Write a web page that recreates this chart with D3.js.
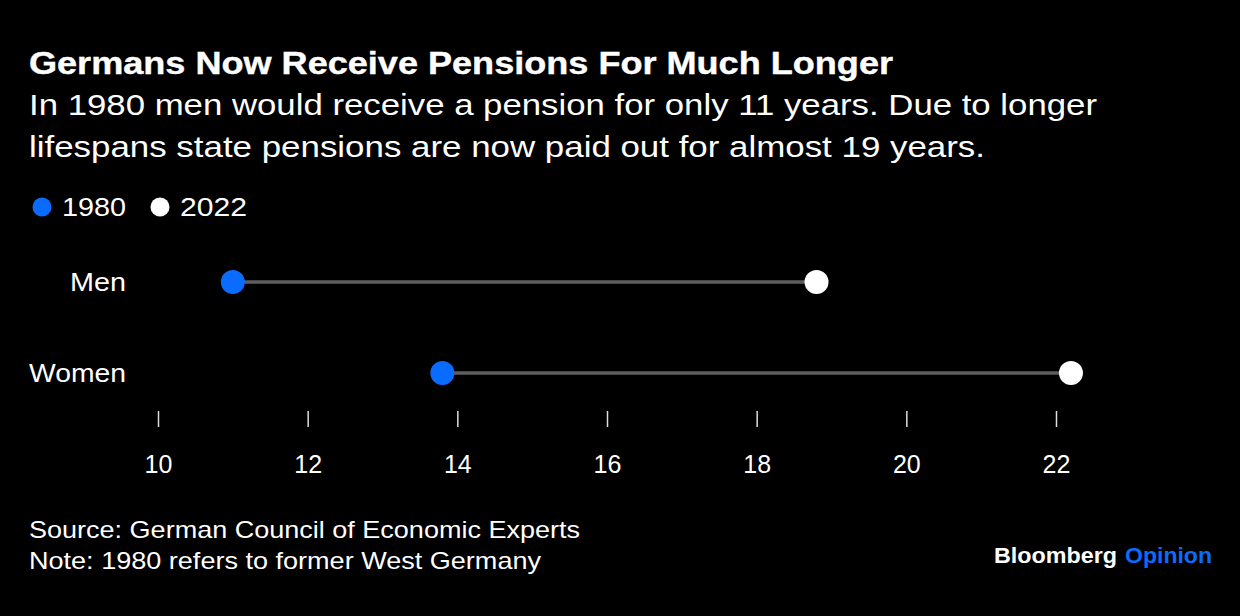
<!DOCTYPE html>
<html><head><meta charset="utf-8">
<script src="https://cdn.jsdelivr.net/npm/d3@7"></script>
<style>
html,body{margin:0;padding:0;background:#000;}
svg{display:block;font-family:"Liberation Sans",Arial,Helvetica,sans-serif;}
</style></head>
<body>
<script>
const categories = ["Men", "Women"];
const values1980 = [11.0, 13.8];
const values2022 = [18.8, 22.2];
const seriesNames = ["1980", "2022"];
const tickValues = [10, 12, 14, 16, 18, 20, 22];

const W = 1240, H = 616;
const svg = d3.select("body").append("svg").attr("width", W).attr("height", H);
svg.append("rect").attr("width", W).attr("height", H).attr("fill", "#000");

const blue = "#0a6cff", white = "#ffffff";

function fit(sel, w) { return sel.attr("textLength", w).attr("lengthAdjust", "spacingAndGlyphs"); }

fit(svg.append("text").attr("x", 29).attr("y", 74).attr("fill", "#fff")
  .attr("font-size", 31).attr("font-weight", "bold").attr("stroke", "#fff").attr("stroke-width", 0.4)
  .text("Germans Now Receive Pensions For Much Longer"), 864);
fit(svg.append("text").attr("x", 29).attr("y", 115).attr("fill", "#fff").attr("font-size", 30)
  .text("In 1980 men would receive a pension for only 11 years. Due to longer"), 1068);
fit(svg.append("text").attr("x", 29).attr("y", 157).attr("fill", "#fff").attr("font-size", 30)
  .text("lifespans state pensions are now paid out for almost 19 years."), 956);

// legend
const leg = svg.append("g");
const legX = [42, 160];
const legW = [64, 67];
seriesNames.forEach((n, i) => {
  leg.append("circle").attr("cx", legX[i]).attr("cy", 207).attr("r", 9.5).attr("fill", i === 0 ? blue : white);
  fit(leg.append("text").attr("x", legX[i] + 20).attr("y", 216).attr("fill", "#fff").attr("font-size", 26).text(n), legW[i]);
});

const x = d3.scaleLinear().domain([10, 22]).range([158, 1056]);
const y = d3.scalePoint().domain(categories).range([282, 373]);

const rows = svg.append("g").selectAll("g").data(categories).join("g");
rows.append("line")
  .attr("x1", (d, i) => x(values1980[i])).attr("x2", (d, i) => x(values2022[i]))
  .attr("y1", d => y(d)).attr("y2", d => y(d))
  .attr("stroke", "#5e5e5e").attr("stroke-width", 3.5);
rows.append("circle").attr("cx", (d, i) => x(values1980[i])).attr("cy", d => y(d)).attr("r", 12).attr("fill", blue);
rows.append("circle").attr("cx", (d, i) => x(values2022[i])).attr("cy", d => y(d)).attr("r", 12).attr("fill", white);
const labW = [56, 97];
rows.append("text").attr("x", (d, i) => 126 - labW[i]).attr("y", d => y(d) + 9)
  .attr("fill", "#fff").attr("font-size", 26).text(d => d)
  .attr("textLength", (d, i) => labW[i]).attr("lengthAdjust", "spacingAndGlyphs");

// axis
const axis = d3.axisBottom(x).tickValues(tickValues).tickSize(16).tickPadding(28).tickFormat(d3.format("d"));
const ag = svg.append("g").attr("transform", "translate(0,411)").call(axis);
ag.select(".domain").remove();
ag.selectAll(".tick line").attr("stroke", "#ddd").attr("stroke-width", 1.5);
ag.selectAll(".tick text").attr("fill", "#fff").attr("font-size", 25)
  .attr("font-family", "'Liberation Sans',Arial,sans-serif").attr("dy", "0.71em");

fit(svg.append("text").attr("x", 29).attr("y", 538).attr("fill", "#fff").attr("font-size", 24)
  .text("Source: German Council of Economic Experts"), 551);
fit(svg.append("text").attr("x", 29).attr("y", 569).attr("fill", "#fff").attr("font-size", 24)
  .text("Note: 1980 refers to former West Germany"), 512);

fit(svg.append("text").attr("x", 994).attr("y", 563).attr("fill", "#fff")
  .attr("font-size", 22).attr("font-weight", "bold").text("Bloomberg"), 123);
fit(svg.append("text").attr("x", 1125).attr("y", 563).attr("fill", blue)
  .attr("font-size", 22).attr("font-weight", "bold").text("Opinion"), 87);
</script>
</body></html>
